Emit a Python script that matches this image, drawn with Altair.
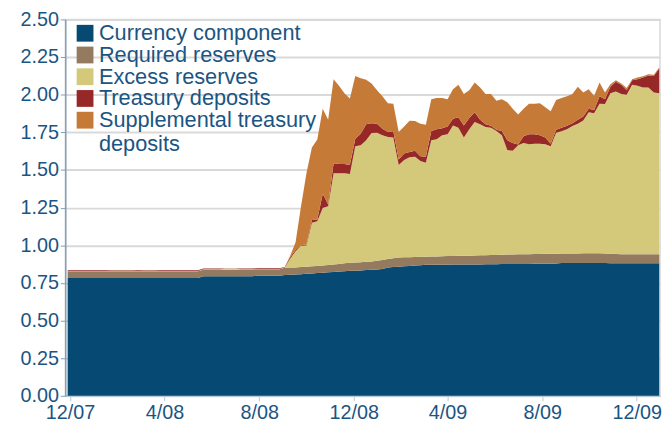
import altair as alt
import pandas as pd

# Weekly observations (Wednesdays), Nov 28 2007 .. Dec 30 2009 (110 weeks)
dates = pd.date_range("2007-11-28", periods=110, freq="7D").strftime("%Y-%m-%d").tolist()

series_names = [
    "Currency component",
    "Required reserves",
    "Excess reserves",
    "Treasury deposits",
    "Supplemental treasury deposits",
]
series_colors = ["#064A74", "#947A5E", "#D4C97A", "#962828", "#C57A38"]

# $ trillions
currency = (
    [0.783] * 25 + [0.795] * 10 + [0.798] * 5
    + [0.803, 0.805, 0.806, 0.808, 0.810, 0.812, 0.815, 0.818, 0.820, 0.822,
       0.825, 0.828, 0.830, 0.831, 0.833, 0.835, 0.837, 0.839, 0.842]
    + [0.852, 0.855, 0.858, 0.860, 0.862, 0.865, 0.868]
    + [0.870, 0.870, 0.871, 0.871, 0.871, 0.872, 0.872, 0.872, 0.873, 0.873, 0.873]
    + [0.874, 0.874, 0.874, 0.875, 0.875, 0.875, 0.876, 0.876, 0.876, 0.877,
       0.877, 0.878, 0.878, 0.879]
    + [0.882] * 9 + [0.881] + [0.880] * 9
)
required = (
    [0.044] * 25 + [0.043] * 15
    + [0.047, 0.047, 0.047, 0.047, 0.047, 0.048, 0.048, 0.048, 0.049, 0.050,
       0.051, 0.052, 0.054, 0.055, 0.055, 0.055, 0.056, 0.058, 0.060]
    + [0.056, 0.058, 0.061, 0.060, 0.059, 0.057, 0.055]
    + [0.054, 0.055, 0.055, 0.056, 0.057, 0.057, 0.058, 0.058, 0.058, 0.059, 0.060]
    + [0.060, 0.061, 0.062, 0.062, 0.063, 0.064, 0.064, 0.065, 0.065, 0.065,
       0.065, 0.065, 0.065, 0.065]
    + [0.063, 0.063, 0.064, 0.064, 0.065, 0.065, 0.065, 0.065, 0.064]
    + [0.063, 0.062] + [0.061] * 8
)
excess = (
    [0.002] * 8 + [0.006] * 5 + [0.002] + [0.006] * 3 + [0.002] * 12
    + [0.006] * 3 + [0.002] * 8
    + [0.003, 0.058, 0.107, 0.141, 0.142, 0.289, 0.297, 0.382, 0.390, 0.606,
       0.602, 0.598, 0.590, 0.772, 0.776, 0.807, 0.853, 0.851, 0.828, 0.811,
       0.802, 0.614, 0.646, 0.664, 0.666, 0.636, 0.624, 0.772, 0.778, 0.803,
       0.809, 0.867, 0.851, 0.785, 0.839, 0.886, 0.870, 0.851, 0.846, 0.823,
       0.793, 0.694, 0.688, 0.724, 0.739, 0.730, 0.733, 0.733, 0.728, 0.715,
       0.804, 0.812, 0.825, 0.846, 0.861, 0.882, 0.937, 0.930, 0.993, 0.993,
       1.065, 1.080, 1.064, 1.059, 1.125, 1.118, 1.107, 1.107, 1.074, 1.068]
)
treasury = (
    [0.005] * 8 + [0.002] * 5 + [0.005] + [0.002] * 3 + [0.005] * 12
    + [0.002] * 3 + [0.005] * 8
    + [0.003, 0.010, 0.010, 0.004, 0.006, 0.018, 0.011, 0.094, 0.011, 0.066,
       0.061, 0.061, 0.059, 0.050, 0.077, 0.106, 0.065, 0.059, 0.044, 0.033,
       0.042, 0.037, 0.044, 0.035, 0.039, 0.033, 0.040, 0.062, 0.066, 0.048,
       0.052, 0.044, 0.070, 0.081, 0.075, 0.066, 0.030, 0.018, 0.013, 0.009,
       0.029, 0.065, 0.053, 0.006, 0.044, 0.066, 0.062, 0.055, 0.044, 0.017,
       0.020, 0.024, 0.024, 0.019, 0.026, 0.026, 0.022, 0.022, 0.050, 0.031,
       0.044, 0.064, 0.061, 0.030, 0.030, 0.044, 0.066, 0.079, 0.110, 0.166]
)
supplemental = (
    [0.0] * 40
    + [0.000, 0.010, 0.050, 0.259, 0.473, 0.482, 0.531, 0.564, 0.563, 0.559,
       0.520, 0.471, 0.442, 0.417, 0.369, 0.297, 0.264, 0.223, 0.216, 0.191,
       0.183, 0.182, 0.179, 0.207, 0.198, 0.215, 0.212, 0.211, 0.208, 0.200,
       0.181, 0.197, 0.215, 0.209, 0.185, 0.197, 0.215, 0.202, 0.211, 0.192,
       0.211, 0.253, 0.226, 0.198, 0.182, 0.203, 0.203, 0.213, 0.202, 0.215,
       0.197, 0.197, 0.195, 0.194, 0.220, 0.160, 0.131, 0.094, 0.091, 0.045,
       0.017, 0.010, 0.009, 0.014, 0.007, 0.011, 0.009, 0.009, 0.007, 0.005]
)

y_ticks = [0.0, 0.25, 0.5, 0.75, 1.0, 1.25, 1.5, 1.75, 2.0, 2.25, 2.5]
x_ticks = [(2007, 12), (2008, 4), (2008, 8), (2008, 12), (2009, 4), (2009, 8), (2009, 12)]
x_domain = [(2007, 11, 25), (2009, 12, 31)]

all_series = [currency, required, excess, treasury, supplemental]
rows = []
for i, (name, vals) in enumerate(zip(series_names, all_series)):
    for d, v in zip(dates, vals):
        rows.append({"date": d, "series": name, "value": v, "order": i})
df = pd.DataFrame(rows)

text_color = "#1B5583"
font = "Liberation Sans"

chart = (
    alt.Chart(df)
    .mark_area(interpolate="linear", strokeWidth=0)
    .encode(
        x=alt.X(
            "date:T",
            scale=alt.Scale(
                type="utc",
                nice=False,
                domain=[alt.DateTime(year=y, month=m, date=d, utc=True) for y, m, d in x_domain],
            ),
            axis=alt.Axis(
                title=None,
                values=[alt.DateTime(year=y, month=m, date=1, utc=True) for y, m in x_ticks],
                labelExpr="utcFormat(datum.value, '%-m/%y')",
                labelFontSize=20,
                labelColor=text_color,
                labelFont=font,
                grid=False,
                domainColor="#B9C9D6",
                domainWidth=1.5,
                tickColor="#B9C9D6",
                tickSize=5,
                labelPadding=2,
            ),
        ),
        y=alt.Y(
            "value:Q",
            stack="zero",
            scale=alt.Scale(domain=[0, 2.5], nice=False),
            axis=alt.Axis(
                title=None,
                values=y_ticks,
                format=".2f",
                labelFontSize=20,
                labelColor=text_color,
                labelFont=font,
                gridColor="#D9D9D9",
                gridWidth=2,
                domainColor="#7F9DB8",
                domainWidth=1.5,
                tickColor="#7F9DB8",
                tickSize=5,
                labelPadding=2,
            ),
        ),
        color=alt.Color(
            "series:N",
            scale=alt.Scale(domain=series_names, range=series_colors),
            legend=alt.Legend(
                title=None,
                orient="none",
                legendX=9,
                legendY=3,
                symbolType="square",
                symbolSize=289,
                symbolStrokeWidth=0,
                labelFontSize=22,
                labelFont=font,
                labelColor=text_color,
                labelLimit=0,
                labelOffset=3,
                rowPadding=0,
                padding=0,
                labelExpr="datum.label == 'Supplemental treasury deposits' ? ['Supplemental treasury', 'deposits'] : datum.label",
            ),
        ),
        order=alt.Order("order:Q", sort="ascending"),
    )
    .properties(
        width=602,
        height=381,
        autosize=alt.AutoSizeParams(type="none"),
        padding={"left": 58, "top": 9, "right": 3, "bottom": 30},
    )
    .configure_view(stroke="#D9D9D9", strokeWidth=1.5)
)

chart.save("out.html", embed_options={"renderer": "svg", "actions": False})
